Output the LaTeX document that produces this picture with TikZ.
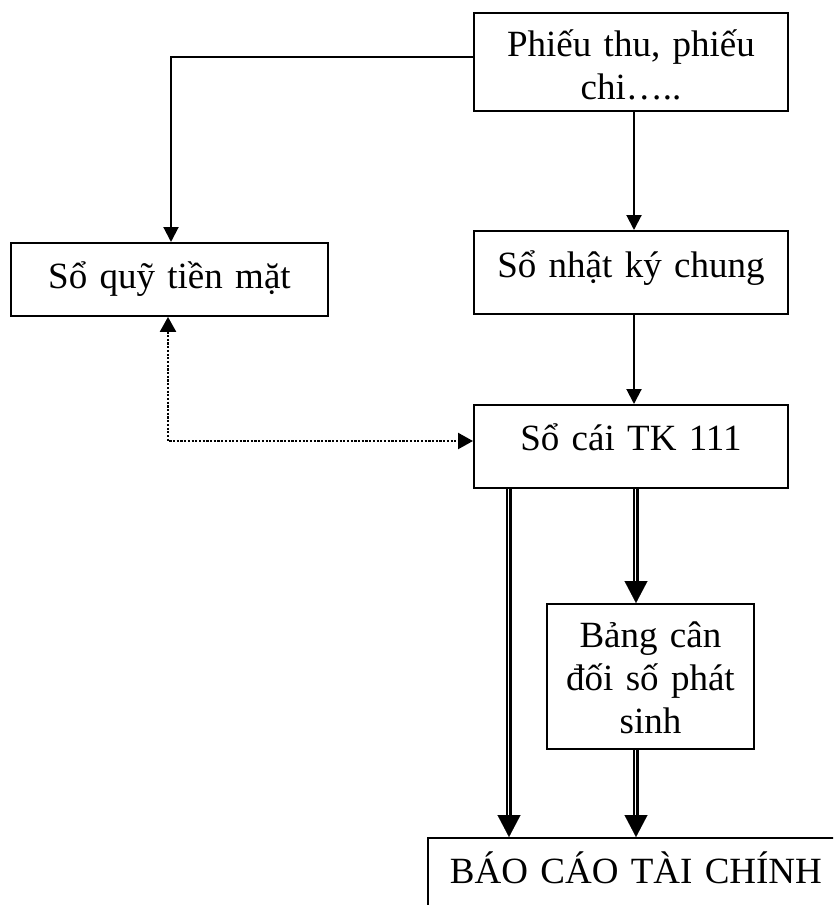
\documentclass[tikz,border=0pt]{standalone}
\usepackage{fontspec}
\setmainfont{Liberation Serif}
\usetikzlibrary{arrows.meta}
\begin{document}
\begin{tikzpicture}[x=1pt,y=-1pt,
  box/.style={draw, line width=1.9pt, anchor=north west, inner xsep=4pt,
    inner ysep=0pt, align=center, font=\fontsize{37}{43}\selectfont},
  flow/.style={line width=2pt, -{Triangle[length=15pt,width=15pt]}},
  dots/.style={line width=2.3pt, dash pattern=on 2.2pt off 1.5pt,
    {Triangle[length=15pt,width=16pt]}-{Triangle[length=15pt,width=16pt]}},
  dblshaft/.style={double, line width=1.9pt, double distance=2.6pt, shorten >=20pt},
  dbltip/.style={line width=0.1pt, -{Triangle[length=22pt,width=23pt]}},
]
\useasboundingbox (0,0) rectangle (833,905);
\clip (0,0) rectangle (833,905);

% boxes
\node[box, text width=306pt, text height=44pt, text depth=54pt] (phieu) at (473,12)
  {Phiếu thu, phiếu\\chi…..};
\node[box, text width=309pt, text height=46pt, text depth=27pt] (quy) at (10,242)
  {Sổ quỹ tiền mặt};
\node[box, text width=306pt, text height=47pt, text depth=36pt] (nkc) at (473,230)
  {Sổ nhật ký chung};
\node[box, text width=306pt, text height=46pt, text depth=37pt] (socai) at (473,404)
  {Sổ cái TK 111};
\node[box, text width=199pt, text height=44pt, text depth=101pt] (bang) at (546,603)
  {Bảng cân\\đối số phát\\sinh};
\node[box, text width=408pt, text height=46pt, text depth=60pt] (bctc) at (427,837)
  {BÁO CÁO TÀI CHÍNH};

% connector columns and bends
\coordinate (split) at (171,57);
\coordinate (colM) at (634,0);
\coordinate (colL) at (509,0);
\coordinate (colR) at (636,0);
\coordinate (dq) at (168,0);
\coordinate (bend) at (168,441);

% single arrows
\draw[flow] (phieu.west |- split) -- (split) -- (quy.north -| split);
\draw[flow] (phieu.south -| colM) -- (nkc.north -| colM);
\draw[flow] (nkc.south -| colM) -- (socai.north -| colM);

% dotted two-way link
\draw[dots] (quy.south -| dq) -- (bend) -- (socai.west |- bend);

% double arrows
\draw[dblshaft] (socai.south -| colL) -- (bctc.north -| colL);
\draw[dbltip] (socai.south -| colL) -- (bctc.north -| colL);
\draw[dblshaft] (socai.south -| colR) -- (bang.north -| colR);
\draw[dbltip] (socai.south -| colR) -- (bang.north -| colR);
\draw[dblshaft] (bang.south -| colR) -- (bctc.north -| colR);
\draw[dbltip] (bang.south -| colR) -- (bctc.north -| colR);
\end{tikzpicture}
\end{document}
